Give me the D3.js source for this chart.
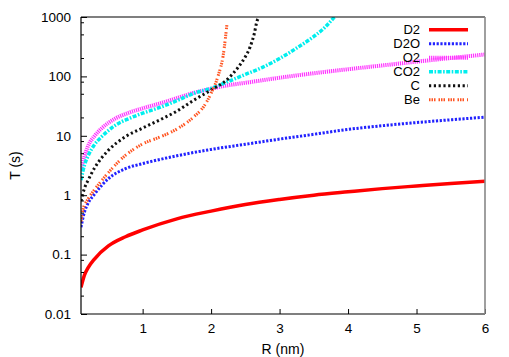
<!DOCTYPE html>
<html><head><meta charset="utf-8">
<script src="https://cdn.jsdelivr.net/npm/d3@7"></script>
<style>body{margin:0;background:#fff}svg{display:block}text{font-family:"Liberation Sans",Arial,sans-serif}</style>
</head><body><svg id="c" width="509" height="357"></svg>
<script>
const xTicks = [1, 2, 3, 4, 5, 6];
const yTicks = [0.01, 0.1, 1, 10, 100, 1000];
const yTickLabels = ["0.01", "0.1", "1", "10", "100", "1000"];
const yMinorMult = [2, 5, 8];
const seriesNames = ["D2", "D2O", "O2", "CO2", "C", "Be"];
const seriesColors = ["#ff0000", "#2222ff", "#ff33ff", "#00eeee", "#111111", "#ff5522"];

const rD2 = [0.1, 0.15, 0.2, 0.3, 0.5, 0.75, 1, 1.5, 2, 2.5, 3, 3.5, 4, 4.5, 5, 5.5, 6];
const tD2 = [0.028, 0.045, 0.059, 0.085, 0.14, 0.2, 0.26, 0.4, 0.54, 0.7, 0.85, 1.0, 1.14, 1.29, 1.43, 1.58, 1.72];
const rD2O = [0.1, 0.15, 0.2, 0.3, 0.5, 0.75, 1, 1.5, 2, 2.5, 3, 3.5, 4, 4.5, 5, 5.5, 6];
const tD2O = [0.29, 0.52, 0.72, 1.05, 1.9, 2.8, 3.4, 4.6, 5.9, 7.2, 8.8, 10.6, 12.8, 14.8, 16.7, 18.6, 20.6];
const rO2 = [0.1, 0.15, 0.2, 0.3, 0.4, 0.6, 0.8, 1, 1.25, 1.5, 1.75, 2, 2.25, 2.5, 3, 3.5, 4, 4.5, 5, 5.5, 6];
const tO2 = [2.7, 4.5, 6.6, 10, 13.3, 19.5, 24.5, 29, 35, 43, 53, 62, 71, 78, 95, 113, 132, 153, 177, 204, 234];
const rCO2 = [0.1, 0.15, 0.2, 0.3, 0.4, 0.6, 0.8, 1, 1.25, 1.5, 1.75, 2, 2.25, 2.5, 2.75, 3, 3.25, 3.5, 3.65, 3.8];
const tCO2 = [1.8, 3.2, 4.5, 7.2, 9.6, 15, 19.5, 24, 30, 39, 52, 63, 82, 108, 142, 200, 300, 470, 650, 1000];
const rC = [0.1, 0.15, 0.2, 0.3, 0.5, 0.75, 1, 1.25, 1.5, 1.75, 2, 2.25, 2.4, 2.5, 2.57, 2.63, 2.67, 2.7];
const tC = [0.8, 1.3, 1.75, 2.9, 5.7, 9.7, 13.5, 18.5, 26, 40, 59, 92, 145, 215, 314, 520, 850, 1000];
const rBe = [0.1, 0.13, 0.2, 0.3, 0.4, 0.5, 0.75, 1, 1.25, 1.5, 1.75, 1.9, 2, 2.1, 2.18, 2.23];
const tBe = [0.36, 0.58, 0.85, 1.25, 1.75, 2.4, 4.7, 7.3, 9.5, 13, 21, 32, 52, 100, 240, 730];

const seriesR = [rD2, rD2O, rO2, rCO2, rC, rBe];
const seriesT = [tD2, tD2O, tO2, tCO2, tC, tBe];
const dashes = [null, "2.2,1.6", "1.2,0.9", "4,1.5,1.6,1.5", "2.2,2.6", "1.5,1,1.5,1,1.5,3"];
const widths = [3.5, 3, 4, 3.5, 3, 3];

const svg = d3.select("#c");
const L = 81, R = 485, T = 17, B = 314;
const x = d3.scaleLinear().domain([0.1, 6]).range([L, R]);
const y = d3.scaleLog().domain([0.01, 1000]).range([B, T]);

svg.append("defs").append("clipPath").attr("id", "clip")
  .append("rect").attr("x", L).attr("y", T).attr("width", R - L).attr("height", B - T);

// curves
const line = d3.line().x(d => x(d[0])).y(d => y(d[1])).curve(d3.curveMonotoneX);
const g = svg.append("g").attr("clip-path", "url(#clip)");
seriesNames.forEach((n, i) => {
  const pts = seriesR[i].map((r, k) => [r, seriesT[i][k]]);
  const p = g.append("path").attr("d", line(pts)).attr("fill", "none")
    .attr("stroke", seriesColors[i]).attr("stroke-width", widths[i]);
  if (dashes[i]) p.attr("stroke-dasharray", dashes[i]);
});

// axes
const xAxis = d3.axisBottom(x).tickValues(xTicks).tickSizeInner(-5).tickSizeOuter(0).tickPadding(9).tickFormat(d3.format("d"));
const xg = svg.append("g").attr("transform", `translate(0,${B})`).call(xAxis);
xg.select(".domain").remove();
xg.selectAll("line").attr("stroke", "#000");
xg.selectAll("text").attr("font-size", 13.5).attr("fill", "#000");

const yAxis = d3.axisLeft(y).tickValues(yTicks).tickSizeInner(-6).tickSizeOuter(0).tickPadding(10)
  .tickFormat((d, i) => yTickLabels[i]);
const yg = svg.append("g").attr("transform", `translate(${L},0)`).call(yAxis);
yg.select(".domain").remove();
yg.selectAll("line").attr("stroke", "#000");
yg.selectAll("text").attr("font-size", 13.5).attr("fill", "#000");

// minor ticks
const minors = [];
yTicks.slice(0, -1).forEach(d => yMinorMult.forEach(m => minors.push(d * m)));
svg.append("g").selectAll("line").data(minors).join("line")
  .attr("x1", L).attr("x2", L + 3).attr("y1", d => y(d)).attr("y2", d => y(d))
  .attr("stroke", "#000");

// border
svg.append("line").attr("x1", L).attr("x2", R).attr("y1", T).attr("y2", T).attr("stroke", "#000").attr("stroke-width", 1.2);
svg.append("line").attr("x1", L).attr("x2", R).attr("y1", B).attr("y2", B).attr("stroke", "#000").attr("stroke-width", 1.2);
svg.append("line").attr("x1", L).attr("x2", L).attr("y1", T).attr("y2", B).attr("stroke", "#000").attr("stroke-width", 1.2);
svg.append("line").attr("x1", R).attr("x2", R).attr("y1", T).attr("y2", B).attr("stroke", "#888").attr("stroke-width", 1.6);

// labels
svg.append("text").attr("x", 283).attr("y", 354).attr("text-anchor", "middle")
  .attr("font-size", 14).text("R (nm)");
svg.append("text").attr("transform", `translate(20,${(T + B) / 2}) rotate(-90)`).attr("text-anchor", "middle")
  .attr("font-size", 14).text("T (s)");

// legend
const lg = svg.append("g");
seriesNames.forEach((n, i) => {
  const yy = 29.7 + i * 14;
  lg.append("text").attr("x", 420).attr("y", yy).attr("dy", "0.35em").attr("text-anchor", "end")
    .attr("font-size", 13).text(n);
  const l = lg.append("line").attr("x1", 429).attr("x2", 468).attr("y1", yy).attr("y2", yy)
    .attr("stroke", seriesColors[i]).attr("stroke-width", widths[i]);
  if (dashes[i]) l.attr("stroke-dasharray", dashes[i]);
});
</script></body></html>
